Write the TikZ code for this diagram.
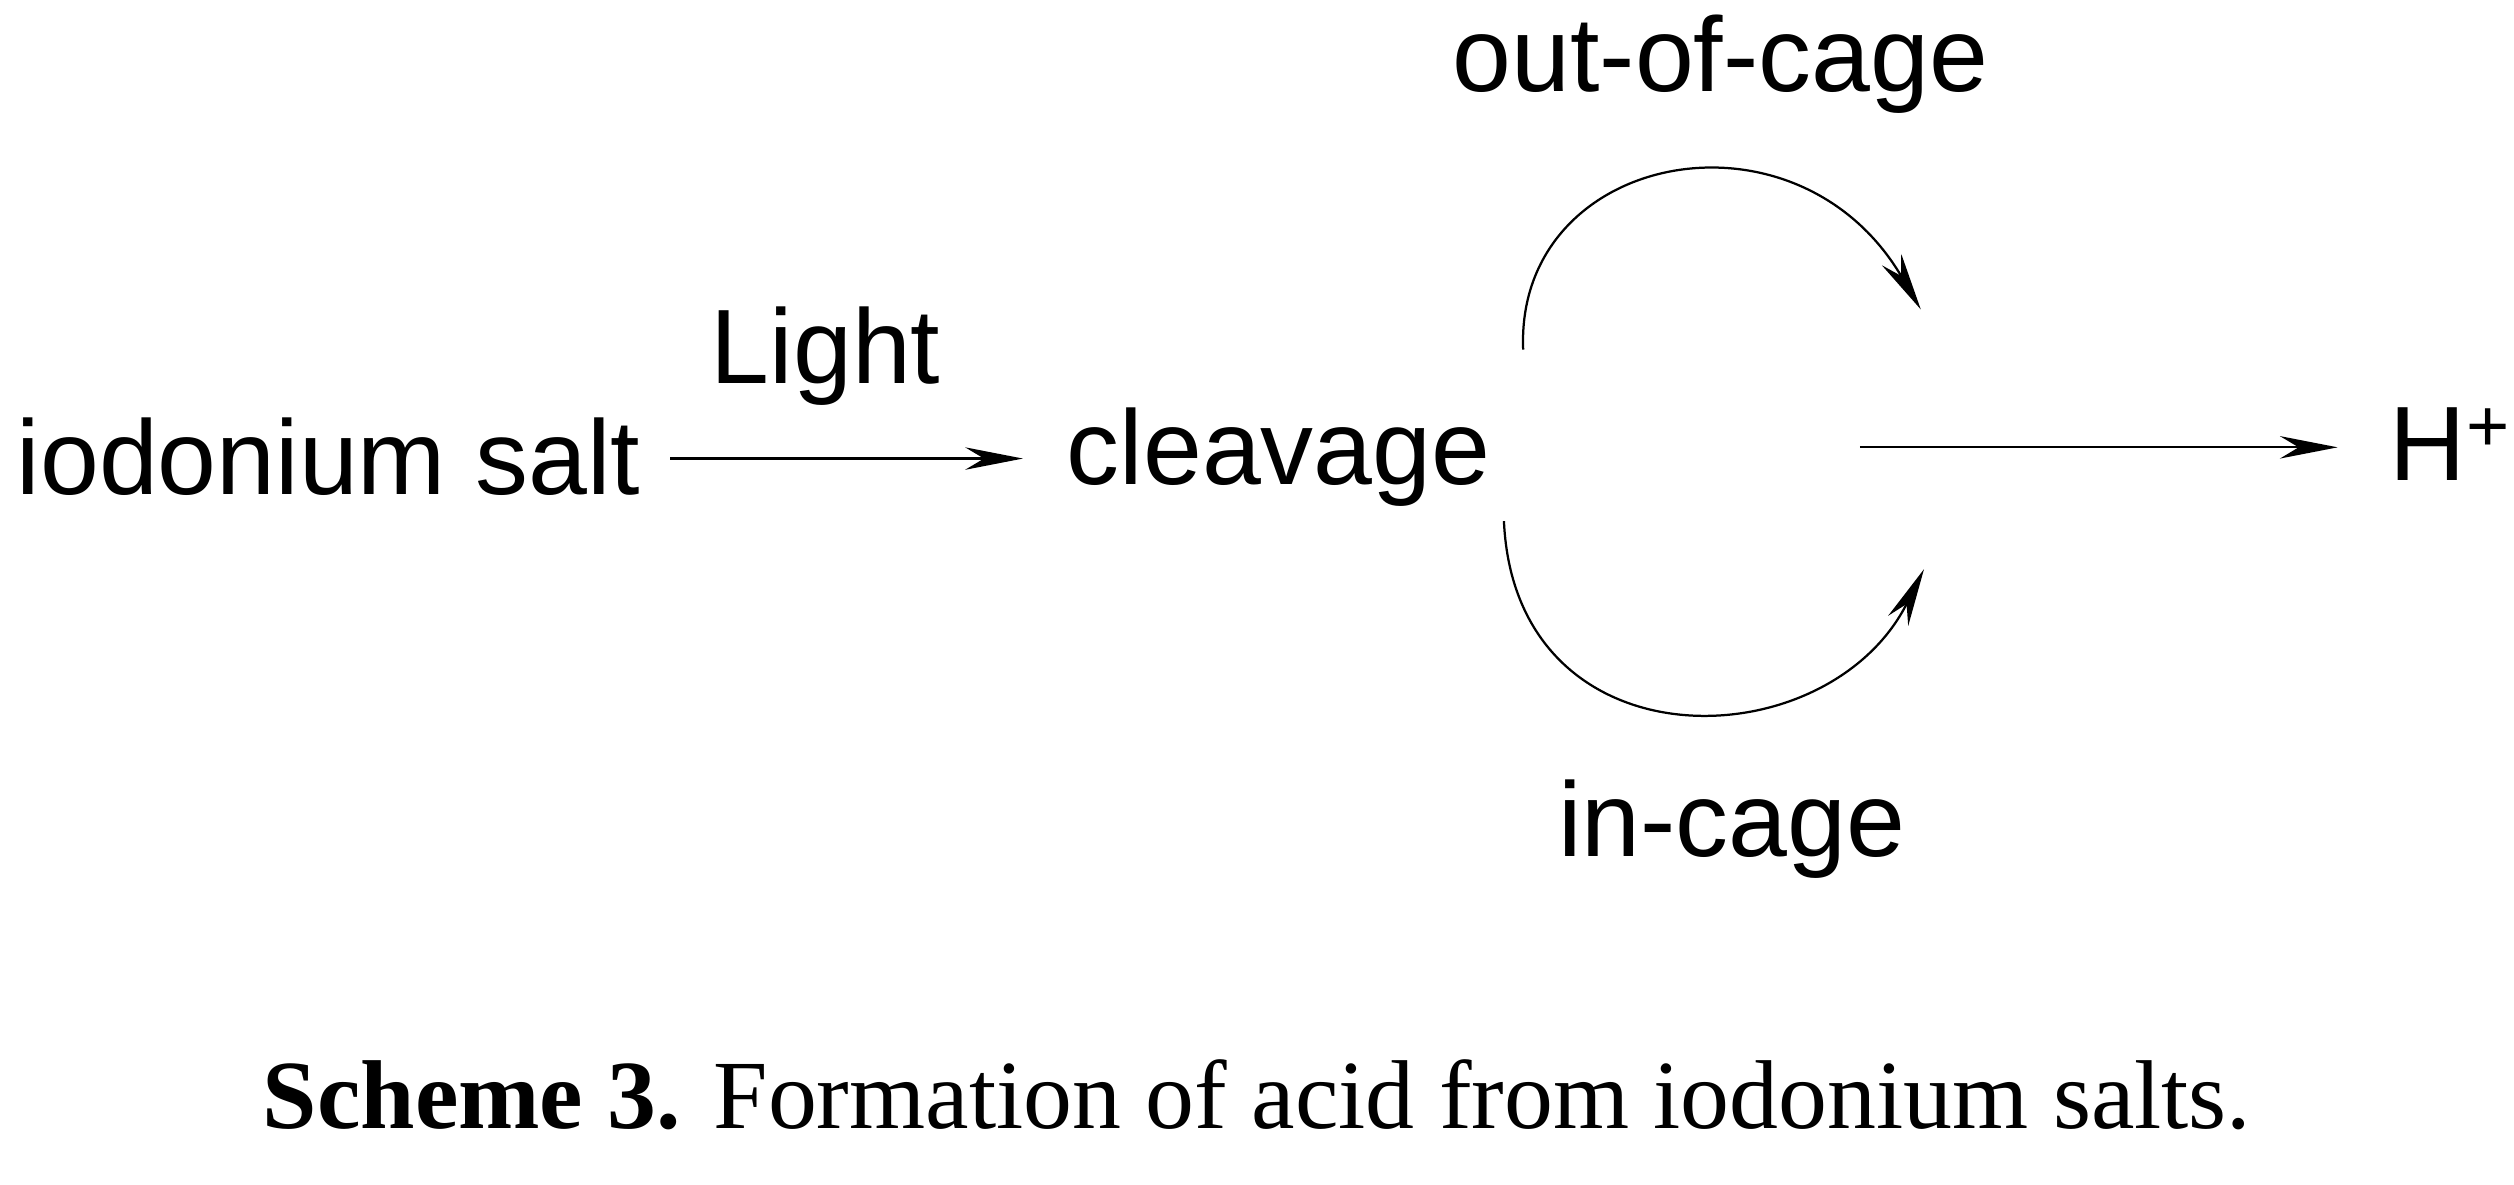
\documentclass[tikz,border=0pt]{standalone}
\usepackage{fontspec}
\setmainfont{Liberation Serif}
\setsansfont{Liberation Sans}
\usetikzlibrary{arrows.meta}
\begin{document}
\begin{tikzpicture}[x=0.5pt,y=-0.5pt,
  lbl/.style={font=\sffamily\fontsize{33}{37}\selectfont, inner sep=0pt},
  arr/.style={line width=0.7pt,-{Stealth[length=18pt,width=7pt]}}]
\useasboundingbox (0,0) rectangle (1568,739);
\node[lbl,anchor=west] (io) at (10,285) {iodonium salt};
\node[lbl] (light) at (515,222) {Light};
\node[lbl,anchor=west] (cl) at (665,285) {cleavage};
\node[lbl] (out) at (1073,40) {out-of-cage};
\node[lbl] (in) at (1080,517) {in-cage};
\node[lbl,anchor=west] (h) at (1490,277) {H\textsuperscript{+}};
\coordinate (a1) at (418,286); \coordinate (a2) at (638,286);
\coordinate (u1) at (950,218); \coordinate (u2) at (1198,193);
\coordinate (l1) at (938,325); \coordinate (l2) at (1200,355);
\coordinate (b1) at (1160,279); \coordinate (b2) at (1458,279);
\draw[arr] (a1) -- (a2);
\draw[arr] (b1) -- (b2);
\draw[arr] (u1) .. controls (945,95) and (1120,60) .. (u2);
\draw[arr] (l1) .. controls (945,480) and (1140,475) .. (l2);
\node[font=\fontsize{30.5}{34}\selectfont, inner sep=0pt] (cap) at (784,683) {\textbf{Scheme 3.} Formation of acid from iodonium salts.};
\end{tikzpicture}
\end{document}
